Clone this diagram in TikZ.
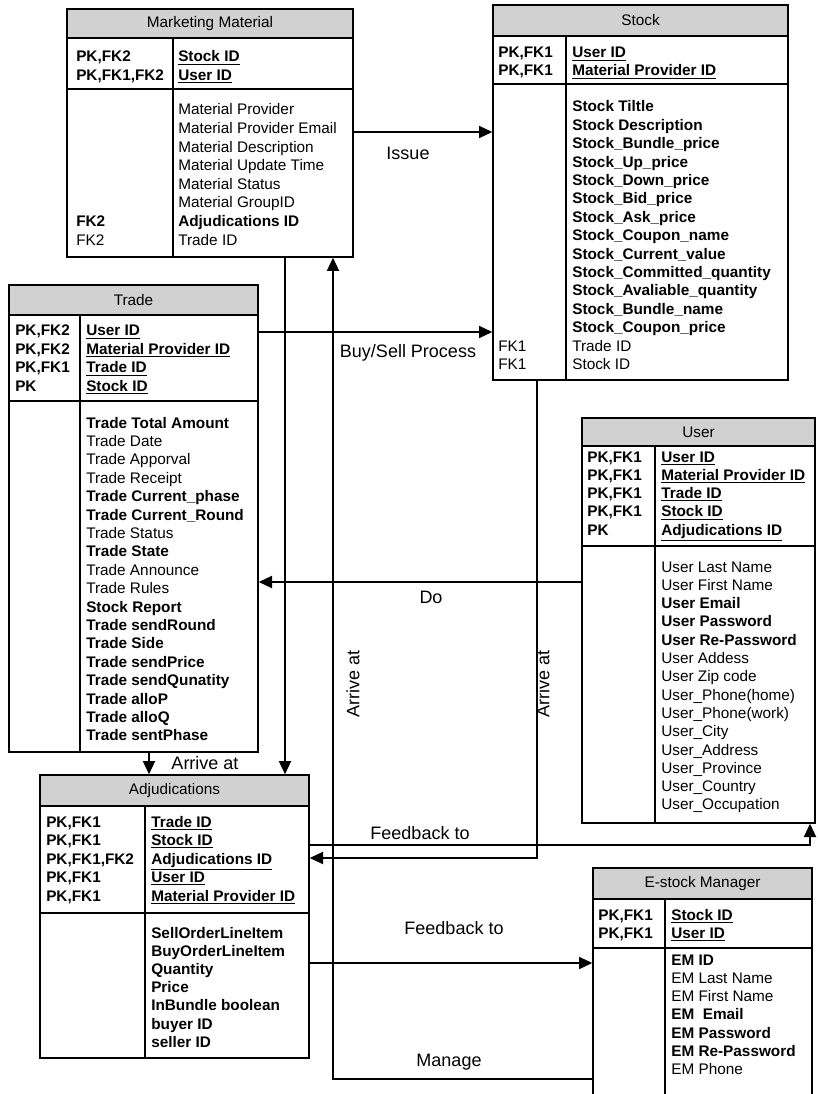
\documentclass[tikz,border=0pt]{standalone}
\usepackage{fontspec}
\setmainfont{Liberation Sans}
\usetikzlibrary{arrows.meta,positioning,fit}
\newcommand{\pkey}[1]{\underline{\textbf{#1}}}

\begin{document}
\begin{tikzpicture}[x=0.75pt,y=-0.75pt,>={Triangle[length=10pt,width=9pt]},
  ent/.style={draw,line width=1pt,inner sep=0pt},
  hdr/.style={ent,fill=black!18},
  ttl/.style={inner sep=0pt,font=\fontsize{11.5}{13.9}\selectfont},
  fld/.style={anchor=base west,inner sep=0pt,font=\fontsize{11.5}{13.9}\selectfont},
  lab/.style={inner sep=0pt,font=\fontsize{13.5}{16}\selectfont},
  arr/.style={->,line width=1.4pt}]
\useasboundingbox (0,0) rectangle (817,1094);
\clip (0,0) rectangle (817,1094);

% Marketing Material
\node[ent,fit={(67,9)(353,257)}] (mm) {};
\node[hdr,fit={(67,9)(353,38)}] (mmT) {};
\node[ttl] (mmName) at (mmT.center) {Marketing Material};
\draw[ent] (mm.west |- 0,89) -- (mm.east |- 0,89) (173,38) -- (mm.south -| 173,0);
\foreach \row [count=\i from 0] in {\textbf{PK,FK2},\textbf{PK,FK1,FK2}}
  \node[fld] (mmK\i) at (76,62+18.5*\i) {\row};
\foreach \row [count=\i from 0] in {\pkey{Stock ID},\pkey{User ID}}
  \node[fld] (mmP\i) at (178,62+18.5*\i) {\row};
\foreach \row [count=\i from 0] in {Material Provider,Material Provider Email,Material Description,
    Material Update Time,Material Status,Material GroupID,\textbf{Adjudications ID},Trade ID}
  \node[fld] (mmA\i) at (178,115+18.6*\i) {\row};
\node[fld] (mmF0) at (76,115+18.6*6) {\textbf{FK2}};
\node[fld] (mmF1) at (76,115+18.6*7) {FK2};

% Stock
\node[ent,fit={(493,5)(788,380)}] (stock) {};
\node[hdr,fit={(493,5)(788,36)}] (stockT) {};
\node[ttl] (stockName) at (stockT.center) {Stock};
\draw[ent] (stock.west |- 0,84) -- (stock.east |- 0,84) (566,36) -- (stock.south -| 566,0);
\foreach \row [count=\i from 0] in {\textbf{PK,FK1},\textbf{PK,FK1}}
  \node[fld] (stockK\i) at (498,58+18*\i) {\row};
\foreach \row [count=\i from 0] in {\pkey{User ID},\pkey{Material Provider ID}}
  \node[fld] (stockP\i) at (572,58+18*\i) {\row};
\foreach \row [count=\i from 0] in {\textbf{Stock Tiltle},\textbf{Stock Description},\textbf{Stock\_Bundle\_price},
    \textbf{Stock\_Up\_price},\textbf{Stock\_Down\_price},\textbf{Stock\_Bid\_price},\textbf{Stock\_Ask\_price},
    \textbf{Stock\_Coupon\_name},\textbf{Stock\_Current\_value},\textbf{Stock\_Committed\_quantity},
    \textbf{Stock\_Avaliable\_quantity},\textbf{Stock\_Bundle\_name},\textbf{Stock\_Coupon\_price},Trade ID,Stock ID}
  \node[fld] (stockA\i) at (572,112+18.4*\i) {\row};
\node[fld] (stockF0) at (498,112+18.4*13) {FK1};
\node[fld] (stockF1) at (498,112+18.4*14) {FK1};

% Trade
\node[ent,fit={(9,285)(258,752)}] (trade) {};
\node[hdr,fit={(9,285)(258,315)}] (tradeT) {};
\node[ttl] (tradeName) at (tradeT.center) {Trade};
\draw[ent] (trade.west |- 0,401) -- (trade.east |- 0,401) (80,315) -- (trade.south -| 80,0);
\foreach \row [count=\i from 0] in {\textbf{PK,FK2},\textbf{PK,FK2},\textbf{PK,FK1},\textbf{PK}}
  \node[fld] (tradeK\i) at (15,336+18.5*\i) {\row};
\foreach \row [count=\i from 0] in {\pkey{User ID},\pkey{Material Provider ID},\pkey{Trade ID},\pkey{Stock ID}}
  \node[fld] (tradeP\i) at (86,336+18.5*\i) {\row};
\foreach \row [count=\i from 0] in {\textbf{Trade Total Amount},Trade Date,Trade Apporval,Trade Receipt,
    \textbf{Trade Current\_phase},\textbf{Trade Current\_Round},Trade Status,\textbf{Trade State},
    Trade Announce,Trade Rules,\textbf{Stock Report},\textbf{Trade sendRound},\textbf{Trade Side},
    \textbf{Trade sendPrice},\textbf{Trade sendQunatity},\textbf{Trade alloP},\textbf{Trade alloQ},
    \textbf{Trade sentPhase}}
  \node[fld] (tradeA\i) at (86,428+18.4*\i) {\row};

% User
\node[ent,fit={(582,418)(815,823)}] (user) {};
\node[hdr,fit={(582,418)(815,446)}] (userT) {};
\node[ttl] (userName) at (userT.center) {User};
\draw[ent] (user.west |- 0,546) -- (user.east |- 0,546) (655,446) -- (user.south -| 655,0);
\foreach \row [count=\i from 0] in {\textbf{PK,FK1},\textbf{PK,FK1},\textbf{PK,FK1},\textbf{PK,FK1},\textbf{PK}}
  \node[fld] (userK\i) at (587,462+18.3*\i) {\row};
\foreach \row [count=\i from 0] in {\pkey{User ID},\pkey{Material Provider ID},\pkey{Trade ID},
    \pkey{Stock ID},\pkey{Adjudications ID}}
  \node[fld] (userP\i) at (661,462+18.3*\i) {\row};
\foreach \row [count=\i from 0] in {User Last Name,User First Name,\textbf{User Email},\textbf{User Password},
    \textbf{User Re-Password},User Addess,User Zip code,User\_Phone(home),User\_Phone(work),User\_City,
    User\_Address,User\_Province,User\_Country,User\_Occupation}
  \node[fld] (userA\i) at (661,572+18.3*\i) {\row};

% Adjudications
\node[ent,fit={(40,775)(309,1058)}] (adj) {};
\node[hdr,fit={(40,775)(309,806)}] (adjT) {};
\node[ttl] (adjName) at (adjT.center) {Adjudications};
\draw[ent] (adj.west |- 0,913) -- (adj.east |- 0,913) (145,806) -- (adj.south -| 145,0);
\foreach \row [count=\i from 0] in {\textbf{PK,FK1},\textbf{PK,FK1},\textbf{PK,FK1,FK2},\textbf{PK,FK1},\textbf{PK,FK1}}
  \node[fld] (adjK\i) at (46,827+18.5*\i) {\row};
\foreach \row [count=\i from 0] in {\pkey{Trade ID},\pkey{Stock ID},\pkey{Adjudications ID},\pkey{User ID},
    \pkey{Material Provider ID}}
  \node[fld] (adjP\i) at (151,827+18.5*\i) {\row};
\foreach \row [count=\i from 0] in {SellOrderLineItem,BuyOrderLineItem,Quantity,Price,InBundle boolean,
    buyer ID,seller ID}
  \node[fld,font=\fontsize{11.5}{13.9}\selectfont\bfseries] (adjA\i) at (151,938+18.2*\i) {\row};

% E-stock Manager
\node[ent,fit={(593,868)(812,1110)}] (estock) {};
\node[hdr,fit={(593,868)(812,899)}] (estockT) {};
\node[ttl] (estockName) at (estockT.center) {E-stock Manager};
\draw[ent] (estock.west |- 0,948) -- (estock.east |- 0,948) (665,899) -- (estock.south -| 665,0);
\foreach \row [count=\i from 0] in {\textbf{PK,FK1},\textbf{PK,FK1}}
  \node[fld] (estockK\i) at (598,920+18*\i) {\row};
\foreach \row [count=\i from 0] in {\pkey{Stock ID},\pkey{User ID}}
  \node[fld] (estockP\i) at (671,920+18*\i) {\row};
\foreach \row [count=\i from 0] in {\textbf{EM ID},EM Last Name,EM First Name,\textbf{EM\ \ Email},
    \textbf{EM Password},\textbf{EM Re-Password},EM Phone}
  \node[fld] (estockA\i) at (671,965+18.3*\i) {\row};

% relations
\draw[arr] (mm.east |- 0,132) -- (stock.west |- 0,132);
\draw[arr] (trade.east |- 0,332) -- (stock.west |- 0,332);
\draw[arr] (user.west |- 0,582) -- (trade.east |- 0,582);
\draw[arr] (mm.south -| 285,0) -- (adj.north -| 285,0);
\draw[arr] (trade.south -| 149,0) -- (adj.north -| 149,0);
\draw[arr] (estock.west |- 0,1079) -| (mm.south -| 333,0);
\draw[arr] (stock.south -| 537,0) |- (adj.east |- 0,858);
\draw[arr] (adj.east |- 0,845) -| (user.south -| 810,0);
\draw[arr] (adj.east |- 0,963) -- (estock.west |- 0,963);
\node[lab] (issue) at (408,153) {Issue};
\node[lab] (buysell) at (408,353) {Buy/Sell Process};
\node[lab] (do) at (431,597) {Do};
\node[lab] (arriveT) at (205,763) {Arrive at};
\node[lab,rotate=90] (arriveL) at (353,684) {Arrive at};
\node[lab,rotate=90] (arriveR) at (543,684) {Arrive at};
\node[lab] (fbUser) at (420,833) {Feedback to};
\node[lab] (fbEstock) at (454,928) {Feedback to};
\node[lab] (manage) at (449,1062) {Manage};
\end{tikzpicture}
\end{document}
